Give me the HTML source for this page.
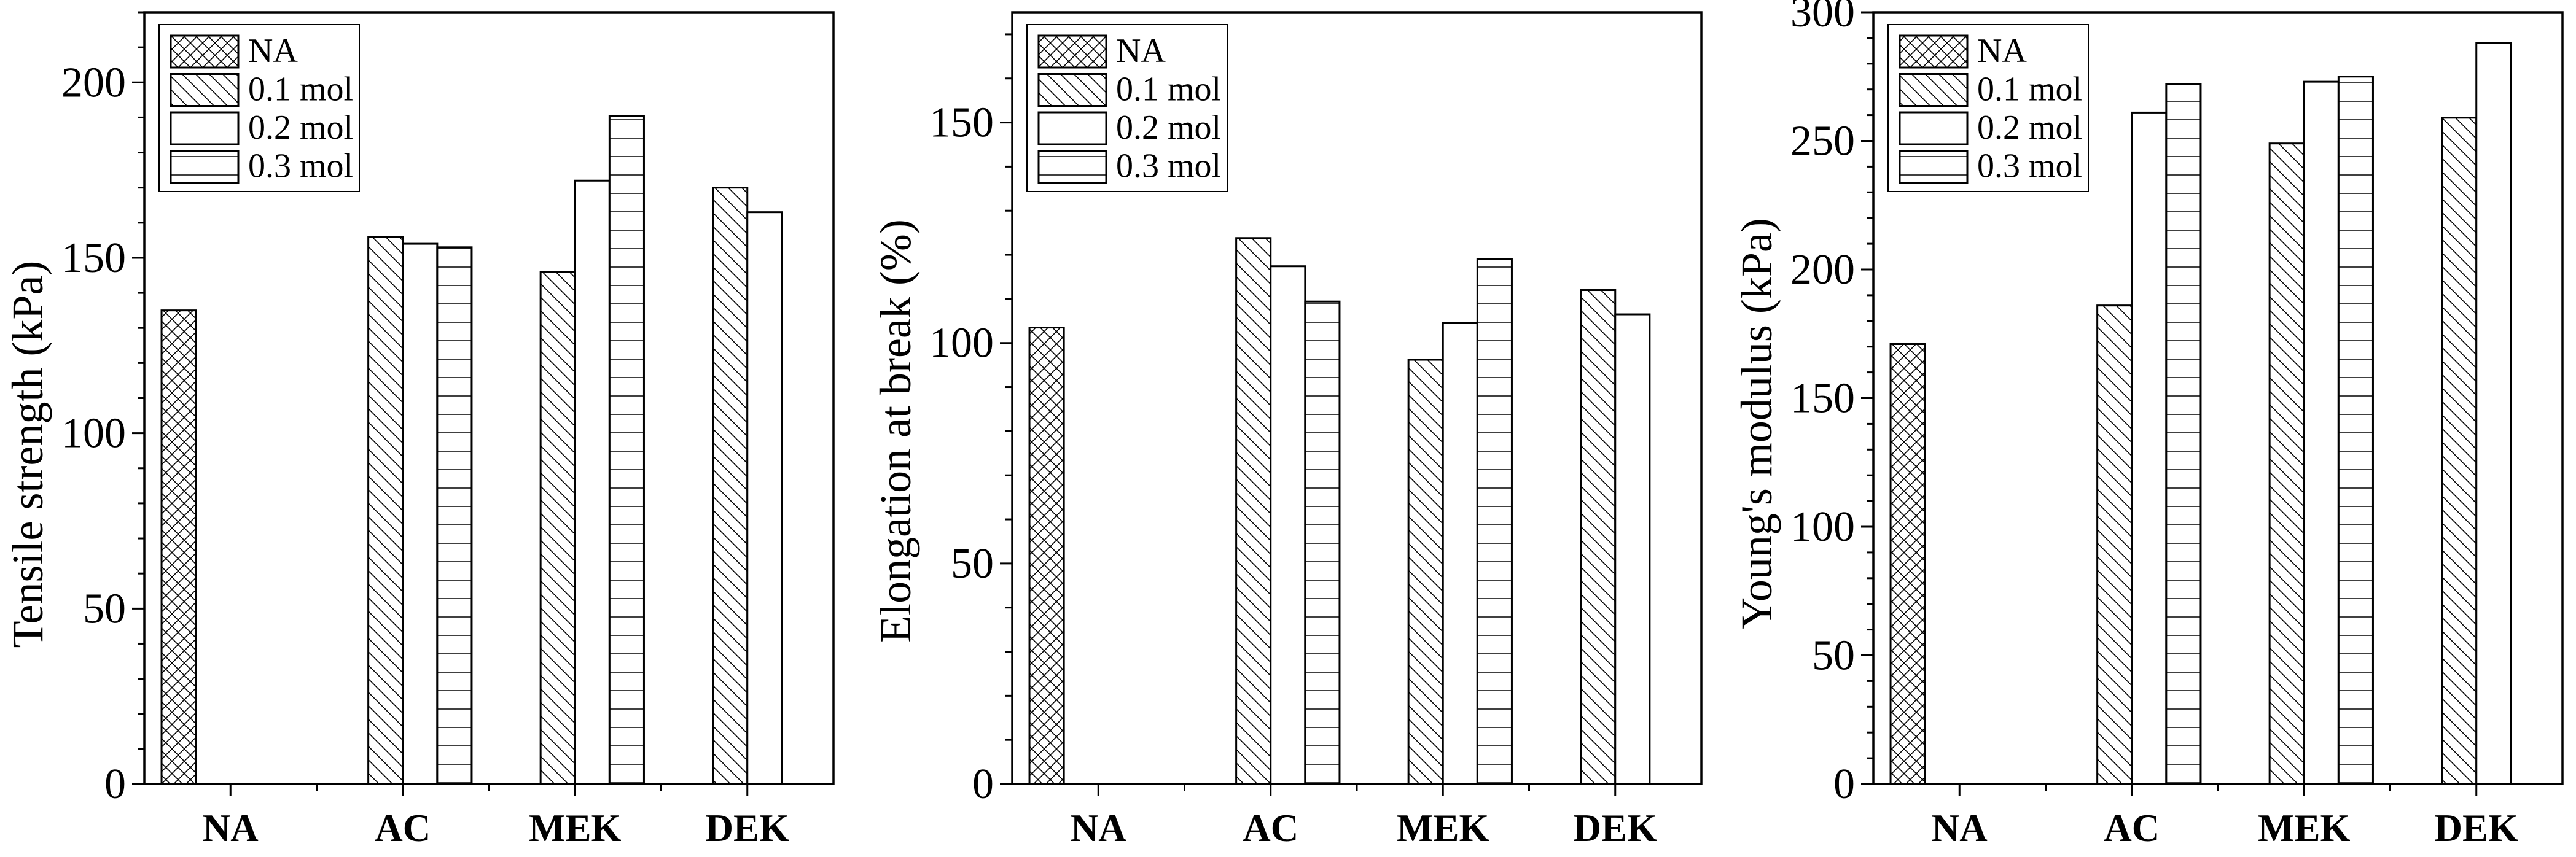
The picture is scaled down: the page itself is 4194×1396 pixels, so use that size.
<!DOCTYPE html>
<html><head><meta charset="utf-8"><style>
html,body{margin:0;padding:0;background:#fff;}
svg{display:block;}
</style></head><body>
<svg id="chart" width="4194" height="1396" viewBox="0 0 4194 1396" xmlns="http://www.w3.org/2000/svg">
<defs>
<pattern id="p-cross" patternUnits="userSpaceOnUse" width="20" height="20"><rect width="20" height="20" fill="#fff"/><path d="M-5,-5 L25,25 M-5,25 L25,-5 M15,-5 L25,5 M-5,15 L5,25 M5,-5 L-5,5 M25,15 L15,25" stroke="#000" stroke-width="1.6"/></pattern>
<pattern id="p-diag" patternUnits="userSpaceOnUse" width="22" height="22"><rect width="22" height="22" fill="#fff"/><path d="M-5,-5 L27,27 M-5,17 L5,27 M17,-5 L27,5" stroke="#000" stroke-width="1.6"/></pattern>
<pattern id="p-horiz" patternUnits="userSpaceOnUse" width="30" height="30"><rect width="30" height="30" fill="#fff"/><path d="M0,15 L30,15" stroke="#000" stroke-width="1.6"/></pattern>
</defs>
</svg>
<script>
const categories = ["NA", "AC", "MEK", "DEK"];
const seriesNames = ["NA", "0.1 mol", "0.2 mol", "0.3 mol"];
const tensileNA = [135, null, null, null];
const tensile01 = [null, 156, 146, 170];
const tensile02 = [null, 154, 172, 163];
const tensile03 = [null, 153, 190.5, null];
const elongNA = [103.5, null, null, null];
const elong01 = [null, 123.8, 96.2, 112];
const elong02 = [null, 117.4, 104.6, 106.5];
const elong03 = [null, 109.4, 119, null];
const youngNA = [171, null, null, null];
const young01 = [null, 186, 249, 259];
const young02 = [null, 261, 273, 288];
const young03 = [null, 272, 275, null];
const tensileTicks = [0, 50, 100, 150, 200];
const elongTicks = [0, 50, 100, 150];
const youngTicks = [0, 50, 100, 150, 200, 250, 300];

const NS = "http://www.w3.org/2000/svg";
const svg = document.getElementById("chart");
const fills = ["url(#p-cross)", "url(#p-diag)", "#fff", "url(#p-horiz)"];
function mk(tag, attrs, parent){const e=document.createElementNS(NS,tag);for(const k in attrs)e.setAttribute(k,attrs[k]);(parent||svg).appendChild(e);return e;}

const panels = [
 {key:"tensile", left:235, ymax:220, ticks:tensileTicks, title:"Tensile strength (kPa)", titleX:45, titleY:740, data:[tensileNA,tensile01,tensile02,tensile03]},
 {key:"elongation", left:1648, ymax:175, ticks:elongTicks, title:"Elongation at break (%)", titleX:1458, titleY:702, data:[elongNA,elong01,elong02,elong03]},
 {key:"young", left:3050, ymax:300, ticks:youngTicks, title:"Young's modulus (kPa)", titleX:2860, titleY:690, data:[youngNA,young01,young02,young03]}
];
const W=1122, TOP=20, BOT=1277;
panels.forEach(p=>{
  const g=mk("g",{});
  
  
  const xs=v=>p.left+(v-0.5)/4*W;
  const ys=v=>BOT-v/p.ymax*(BOT-TOP);
  const bw=0.2;
  p.data.forEach((ser,si)=>{
    ser.forEach((v,ci)=>{
      if(v==null)return;
      const cx=xs(ci+1+(si-1.5)*bw);
      const w=bw/4*W;
      const r=mk("rect",{x:cx-w/2,y:ys(v),width:w,height:BOT-ys(v),fill:fills[si],stroke:"#000","stroke-width":3},g);
      
      
    });
  });
  const fr=mk("rect",{x:p.left,y:TOP,width:W,height:BOT-TOP,fill:"none",stroke:"#000","stroke-width":3.5},g);
  
  
  for(let v=0; v<=p.ymax; v+=10){
    const major=v%50===0;
    mk("line",{x1:p.left-(major?20:11),x2:p.left,y1:ys(v),y2:ys(v),stroke:"#000","stroke-width":3},g);
  }
  p.ticks.forEach(v=>{
    const t=mk("text",{x:p.left-30,y:ys(v)+23,"text-anchor":"end","font-family":"Liberation Serif, serif","font-size":70},g);
    t.textContent=v;
    
    
  });
  for(let i=0;i<categories.length;i++){
    mk("line",{x1:xs(i+1),x2:xs(i+1),y1:BOT,y2:BOT+20,stroke:"#000","stroke-width":3},g);
    if(i<3) mk("line",{x1:xs(i+1.5),x2:xs(i+1.5),y1:BOT,y2:BOT+12,stroke:"#000","stroke-width":3},g);
    const t=mk("text",{x:xs(i+1),y:1370,"text-anchor":"middle","font-family":"Liberation Serif, serif","font-size":63,"font-weight":"bold"},g);
    t.textContent=categories[i];
    
    
  }
  const tt=mk("text",{x:0,y:0,"text-anchor":"middle","font-family":"Liberation Serif, serif","font-size":72,transform:`translate(${p.titleX+24},${p.titleY}) rotate(-90)`},g);
  tt.textContent=p.title;
  
  
  const lg=mk("g",{},g);
  
  
  const lx=p.left+24;
  mk("rect",{x:lx,y:40,width:326,height:272,fill:"#fff",stroke:"#000","stroke-width":2},lg);
  seriesNames.forEach((n,si)=>{
    const y0=58+si*62.5;
    const s=mk("rect",{x:lx+19,y:y0,width:110,height:52,fill:fills[si],stroke:"#000","stroke-width":3},lg);
    
    
    const t=mk("text",{x:lx+145,y:y0+43,"font-family":"Liberation Serif, serif","font-size":56},lg);
    t.textContent=n;
    
    
  });
});
</script>
</body></html>
